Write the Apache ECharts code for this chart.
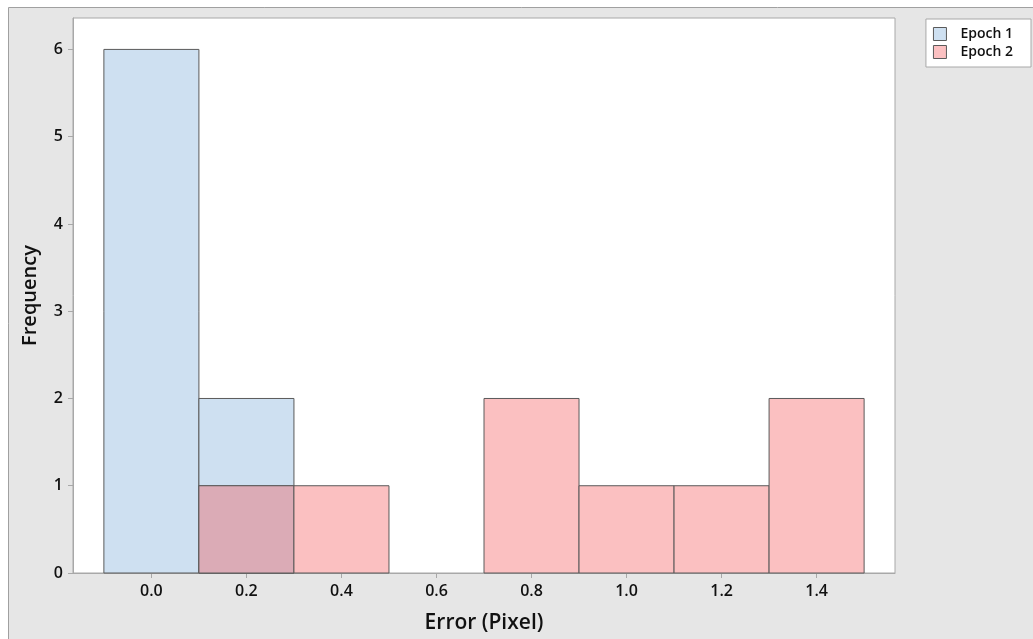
<!DOCTYPE html>
<html>
<head>
<meta charset="utf-8">
<script src="https://cdn.jsdelivr.net/npm/echarts@6/dist/echarts.min.js"></script>
<style>html,body{margin:0;padding:0;background:#fff;}#c{width:1033px;height:639px;}</style>
</head>
<body>
<div id="c"></div>
<script>
// ---- data ----
const binCenters = [0.0, 0.2, 0.4, 0.6, 0.8, 1.0, 1.2, 1.4];
const binWidth = 0.2;
const epoch1 = [6, 2, 0, 0, 0, 0, 0, 0];
const epoch2 = [0, 1, 1, 0, 2, 1, 1, 2];
const xTicks = [0.0, 0.2, 0.4, 0.6, 0.8, 1.0, 1.2, 1.4];
const yTicks = [0, 1, 2, 3, 4, 5, 6];
const seriesNames = ['Epoch 1', 'Epoch 2'];

const BLUE = '#cee0f1', PINK = '#fbc0c1', MAUVE = '#dbabb6', EDGE = '#5a5a5a';
const FONT = '"Open Sans", "Noto Sans", sans-serif';

function toData(counts) {
  return binCenters.map((c, i) => [c - binWidth / 2, c + binWidth / 2, counts[i], i]);
}

function makeRender(fill, isTop) {
  return function (params, api) {
    const x0 = api.value(0), x1 = api.value(1), h = api.value(2), idx = api.value(3);
    if (h <= 0) return null;
    const p0 = api.coord([x0, 0]);
    const p1 = api.coord([x1, h]);
    const children = [{
      type: 'rect',
      shape: { x: p0[0], y: p1[1], width: p1[0] - p0[0], height: p0[1] - p1[1] },
      style: { fill: fill, stroke: EDGE, lineWidth: 1 }
    }];
    if (isTop) {
      const ov = Math.min(h, epoch1[idx]);
      if (ov > 0) {
        const q = api.coord([x1, ov]);
        children.push({
          type: 'rect',
          shape: { x: p0[0], y: q[1], width: q[0] - p0[0], height: p0[1] - q[1] },
          style: { fill: MAUVE, stroke: EDGE, lineWidth: 1 }
        });
      }
    }
    return { type: 'group', children: children };
  };
}

const chart = echarts.init(document.getElementById('c'), null, { renderer: 'canvas' });
chart.setOption({
  backgroundColor: '#ffffff',
  animation: false,
  graphic: {
    elements: [{
      type: 'rect', z: -100, silent: true,
      shape: { x: 8.5, y: 7.5, width: 1040, height: 650 },
      style: { fill: '#e6e6e6', stroke: '#a0a0a0', lineWidth: 1 }
    }]
  },
  grid: {
    left: 73, top: 18, right: 138, bottom: 62,
    show: true, backgroundColor: '#ffffff', borderColor: '#a8a8a8', borderWidth: 1
  },
  legend: {
    data: seriesNames.map((n, i) => ({ name: n, itemStyle: { color: i === 0 ? BLUE : PINK, borderColor: EDGE, borderWidth: 1 } })),
    orient: 'vertical', right: 2, top: 19,
    backgroundColor: '#ffffff', borderColor: '#a8a8a8', borderWidth: 1,
    padding: [8, 18, 8, 7], itemGap: 4,
    icon: 'rect', itemWidth: 13, itemHeight: 13,
    textStyle: { fontFamily: FONT, fontSize: 14, fontWeight: 600, color: '#111', padding: [0, 0, 0, 9] }
  },
  xAxis: {
    type: 'value', min: -0.165, max: 1.565,
    name: 'Error (Pixel)', nameLocation: 'middle', nameGap: 40,
    nameTextStyle: { fontFamily: FONT, fontSize: 21, fontWeight: 600, color: '#111' },
    axisLine: { show: true, onZero: false, lineStyle: { color: '#a8a8a8' } },
    axisTick: { show: true, length: 5, customValues: xTicks, lineStyle: { color: '#a8a8a8' } },
    axisLabel: { customValues: xTicks, formatter: v => v.toFixed(1), margin: 10,
      fontFamily: FONT, fontSize: 16, fontWeight: 600, color: '#111' },
    splitLine: { show: false }
  },
  yAxis: {
    type: 'value', min: 0, max: 6.36,
    name: 'Frequency', nameLocation: 'middle', nameGap: 33, nameRotate: 90,
    nameTextStyle: { fontFamily: FONT, fontSize: 20, fontWeight: 600, color: '#111' },
    axisLine: { show: true, onZero: false, lineStyle: { color: '#a8a8a8' } },
    axisTick: { show: true, length: 5, customValues: yTicks, lineStyle: { color: '#a8a8a8' } },
    axisLabel: { customValues: yTicks, margin: 10,
      fontFamily: FONT, fontSize: 16, fontWeight: 600, color: '#111' },
    splitLine: { show: false }
  },
  series: [
    { name: seriesNames[0], type: 'custom', renderItem: makeRender(BLUE, false),
      itemStyle: { color: BLUE }, encode: { x: [0, 1], y: 2 }, data: toData(epoch1), z: 2 },
    { name: seriesNames[1], type: 'custom', renderItem: makeRender(PINK, true),
      itemStyle: { color: PINK }, encode: { x: [0, 1], y: 2 }, data: toData(epoch2), z: 3 }
  ]
});
</script>
</body>
</html>
